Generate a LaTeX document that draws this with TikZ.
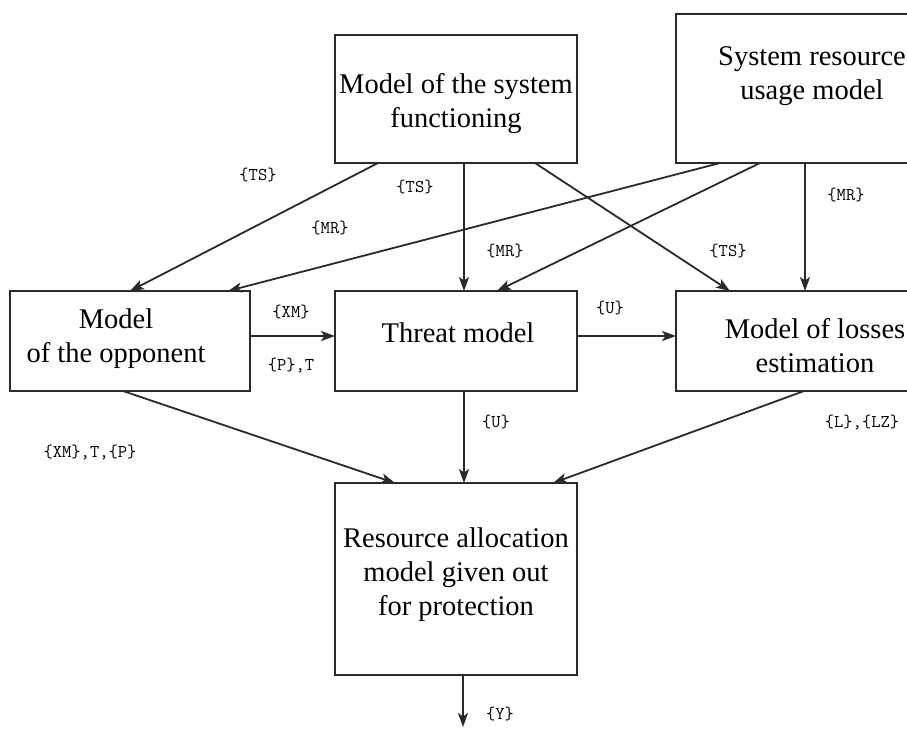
\documentclass[tikz,border=0pt]{standalone}
\usepackage{fontspec}
\setmainfont{Liberation Serif}
\usetikzlibrary{arrows.meta}
\definecolor{linec}{HTML}{2A2A2A}
\tikzset{
  box/.style={draw=linec, line width=2pt, rectangle, inner sep=0pt, outer sep=0pt},
  boxtext/.style={align=center, inner sep=0pt, font=\fontsize{28.5}{34}\selectfont},
  lbl/.style={inner sep=0pt, font=\ttfamily\fontsize{18}{21}\selectfont},
  arr/.style={draw=linec, line width=1.8pt, -{Stealth[length=14pt,width=10pt,inset=3.5pt]}}
}
\begin{document}
\begin{tikzpicture}[x=1pt,y=-1pt]
\useasboundingbox (0,0) rectangle (907,729);
\fill[white] (0,0) rectangle (907,729);
\clip (0,0) rectangle (907,729);
% boxes
\node[box, minimum width=242pt, minimum height=128pt] (func) at (456,99) {};
\node[box, minimum width=272pt, minimum height=149pt] (sys) at (812,88.5) {};
\node[box, minimum width=240pt, minimum height=100pt] (opp) at (130,341) {};
\node[box, minimum width=242pt, minimum height=100pt] (thr) at (456,341) {};
\node[box, minimum width=272pt, minimum height=100pt] (loss) at (812,341) {};
\node[box, minimum width=242pt, minimum height=192pt] (bot) at (456,579) {};
% box texts
\node[boxtext] (funct) at (456,104) {Model of the system\\functioning};
\node[boxtext] (syst) at (812,76) {System resource\\usage model};
\node[boxtext] (oppt) at (116,339) {Model\\of the opponent};
\node[boxtext] (thrt) at (458,333) {Threat model};
\node[boxtext] (losst) at (815,346) {Model of losses\\estimation};
\node[boxtext] (bott) at (456,575) {Resource allocation\\model given out\\for protection};
% connectors
\draw[arr] ([xshift=-78pt]func.south) -- (opp.north);
\draw[arr] ([xshift=8pt]func.south) -- ([xshift=8pt]thr.north);
\draw[arr] ([xshift=79pt]func.south) -- ([xshift=-82pt]loss.north);
\draw[arr] ([xshift=-92pt]sys.south) -- ([xshift=98pt]opp.north);
\draw[arr] ([xshift=-52pt]sys.south) -- ([xshift=41pt]thr.north);
\draw[arr] ([xshift=-7pt]sys.south) -- ([xshift=-7pt]loss.north);
\draw[arr] ([yshift=5pt]opp.east) -- ([yshift=5pt]thr.west);
\draw[arr] ([yshift=5pt]thr.east) -- ([yshift=5pt]loss.west);
\draw[arr] ([xshift=-7pt]opp.south) -- ([xshift=-61pt]bot.north);
\draw[arr] ([xshift=8pt]thr.south) -- ([xshift=8pt]bot.north);
\draw[arr] ([xshift=-8pt]loss.south) -- ([xshift=97pt]bot.north);
\coordinate (out) at (463,727);
\draw[arr] ([xshift=7pt]bot.south) -- (out);
% labels
\node[lbl] (l1) at (258,175) {\{TS\}};
\node[lbl] (l2) at (415,187) {\{TS\}};
\node[lbl] (l3) at (330,228) {\{MR\}};
\node[lbl] (l4) at (505,251) {\{MR\}};
\node[lbl] (l5) at (728,251) {\{TS\}};
\node[lbl] (l6) at (846,195) {\{MR\}};
\node[lbl] (l7) at (291,312) {\{XM\}};
\node[lbl] (l8) at (291,365) {\{P\},T};
\node[lbl] (l9) at (610,308) {\{U\}};
\node[lbl] (l10) at (496,422) {\{U\}};
\node[lbl] (l11) at (862,422) {\{L\},\{LZ\}};
\node[lbl] (l12) at (90,452) {\{XM\},T,\{P\}};
\node[lbl] (l13) at (500,714) {\{Y\}};
\end{tikzpicture}
\end{document}
